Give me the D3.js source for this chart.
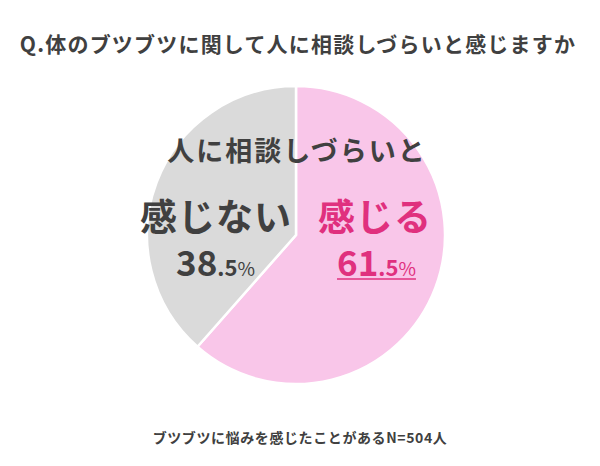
<!DOCTYPE html>
<html>
<head>
<meta charset="utf-8">
<script src="https://cdn.jsdelivr.net/npm/d3@7"></script>
<style>
  body { margin: 0; background: #fff; }
  svg text { font-family: "Noto Sans CJK JP", "Noto Sans", sans-serif; font-weight: 700; }
</style>
</head>
<body>
<script>
// chart data
var title = "Q.体のブツブツに関して人に相談しづらいと感じますか";
var note = "ブツブツに悩みを感じたことがあるN=504人";
var header = "人に相談しづらいと";
var categories = ["感じる", "感じない"];
var values = [61.5, 38.5];
var colors = ["#f9c6e9", "#dadada"];
var textColors = ["#e0307e", "#404040"];

var width = 600, height = 466;
var cx = 296, cy = 235, r = 149;

var svg = d3.select("body").append("svg")
    .attr("width", width)
    .attr("height", height);

svg.append("text")
    .attr("x", 298)
    .attr("y", 52)
    .attr("text-anchor", "middle")
    .attr("font-size", 21)
    .attr("letter-spacing", 1.2)
    .attr("fill", "#404040")
    .text(title);

var pie = d3.pie().sort(null).value(function(d) { return d; });
var arc = d3.arc().innerRadius(0).outerRadius(r);

var g = svg.append("g").attr("transform", "translate(" + cx + "," + cy + ")");
g.selectAll("path")
    .data(pie(values))
    .enter()
    .append("path")
    .attr("d", arc)
    .attr("fill", function(d, i) { return colors[i]; })
    .attr("stroke", "#fff")
    .attr("stroke-width", 2.5);

svg.append("text")
    .attr("x", 297)
    .attr("y", 161)
    .attr("text-anchor", "middle")
    .attr("font-size", 27)
    .attr("letter-spacing", 2)
    .attr("fill", "#404040")
    .text(header);

// category labels, left = 感じない, right = 感じる
var labelX = [375, 216];
var numX = [337, 176];
categories.forEach(function(c, i) {
    svg.append("text")
        .attr("x", labelX[i])
        .attr("y", 231)
        .attr("text-anchor", "middle")
        .attr("font-size", 37)
        .attr("letter-spacing", 1)
        .attr("fill", textColors[i])
        .text(c);

    var parts = d3.format(".1f")(values[i]).split(".");
    var t = svg.append("text")
        .attr("x", numX[i])
        .attr("y", 276)
        .attr("fill", textColors[i]);
    t.append("tspan").attr("font-size", 35).text(parts[0]);
    t.append("tspan").attr("font-size", 22).text("." + parts[1]);
    t.append("tspan").attr("font-size", 19).attr("font-weight", 400).text("%");

    if (i == 0) {
        var bb = t.node().getBBox();
        svg.append("line")
            .attr("x1", bb.x).attr("x2", bb.x + bb.width)
            .attr("y1", 279).attr("y2", 279)
            .attr("stroke", textColors[i])
            .attr("stroke-width", 1.5);
    }
});

svg.append("text")
    .attr("x", 300)
    .attr("y", 443)
    .attr("text-anchor", "middle")
    .attr("font-size", 14)
    .attr("letter-spacing", 0.6)
    .attr("fill", "#404040")
    .text(note);
</script>
</body>
</html>
